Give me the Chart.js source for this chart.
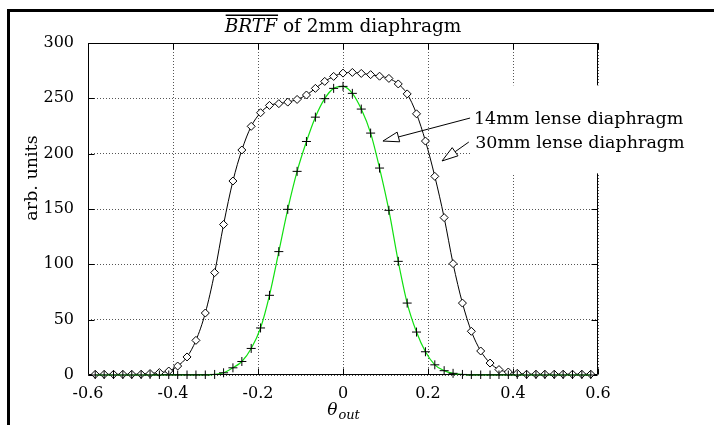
<!DOCTYPE html>
<html>
<head>
<meta charset="utf-8">
<script src="https://cdn.jsdelivr.net/npm/chart.js@4/dist/chart.umd.min.js"></script>
<style>
  html, body { margin: 0; padding: 0; background: #fff; }
  canvas { display: block; }
</style>
</head>
<body>
<canvas id="c" width="714" height="425"></canvas>
<script>
// ---------- data ----------
const thetaOut = [
  -0.583, -0.562, -0.540, -0.518, -0.497, -0.475, -0.454, -0.432, -0.410, -0.389,
  -0.367, -0.346, -0.324, -0.302, -0.281, -0.259, -0.238, -0.216, -0.194, -0.173,
  -0.151, -0.130, -0.108, -0.086, -0.065, -0.043, -0.022, 0.000, 0.022, 0.043,
  0.065, 0.086, 0.108, 0.130, 0.151, 0.173, 0.194, 0.216, 0.238, 0.259,
  0.281, 0.302, 0.324, 0.346, 0.367, 0.389, 0.410, 0.432, 0.454, 0.475,
  0.497, 0.518, 0.540, 0.562, 0.583
];
const lens30mm = [
  0.6, 0.6, 0.6, 0.6, 0.6, 0.7, 1.3, 2.2, 3.6, 8.1,
  16.3, 31.3, 56, 92.5, 136, 175.3, 203.3, 224.7, 237, 243.6,
  245.2, 246.6, 249, 253, 259, 265.3, 269.8, 272.8, 273.4, 272.5,
  271.4, 270, 268, 263, 254, 236, 211.4, 179.5, 142.2, 100.6,
  65, 39.5, 21.7, 10.8, 4.9, 2.7, 1.5, 0.7, 0.7, 0.7,
  0.7, 0.7, 0.7, 0.7, 0.7
];
const lens14mm = [
  0, 0, 0, 0, 0, 0, 0, 0, 0, 0,
  0, 0, 0, 0.5, 2, 6.5, 12.2, 24, 42.5, 72,
  111.5, 149.7, 184, 211, 233, 249.7, 259, 260.8, 254.5, 240.3,
  218.6, 187, 148.8, 102.7, 65, 38.8, 21, 9.2, 3.9, 1.5,
  0.5, 0, 0, 0, 0, 0, 0, 0, 0, 0,
  0, 0, 0, 0, 0
];
const xTickValues = [-0.6, -0.4, -0.2, 0, 0.2, 0.4, 0.6];
const yTickValues = [0, 50, 100, 150, 200, 250, 300];
const titleItalic = 'BRTF';
const titleRest = ' of 2mm diaphragm';
const yAxisTitle = 'arb. units';
const yAxisTitleAt = 178;   // data value at which the y title is centred
const xAxisSymbol = 'θ';
const xAxisSub = 'out';
const label14 = '14mm lense diaphragm';
const label30 = '30mm lense diaphragm';
// annotation anchors in data units: [textX, textY(baseline), arrowStartX, arrowStartY, tipX, tipY]
const note14 = [0.308, 226.5, 0.299, 232.2, 0.094, 211.4];
const note30 = [0.311, 204.8, 0.296, 210.5, 0.233, 193.4];

const SERIF = '"DejaVu Serif", serif';

function pts(xs, ys) { return xs.map((x, i) => ({ x: x, y: ys[i] })); }

const deco = {
  id: 'deco',
  beforeDraw(chart) {
    const ctx = chart.ctx;
    ctx.save();
    ctx.fillStyle = '#fff';
    ctx.fillRect(0, 0, chart.width, chart.height);
    ctx.restore();
  },
  beforeDatasetsDraw(chart) {
    const { ctx, chartArea: a, scales } = chart;
    const xs = scales.x, ys = scales.y;
    ctx.save();
    // plot frame
    ctx.strokeStyle = '#000';
    ctx.lineWidth = 1;
    const L = Math.round(a.left) + 0.5, R = Math.round(a.right) - 0.5;
    const T = Math.round(a.top) + 0.5, B = Math.round(a.bottom) - 0.5;
    ctx.beginPath();
    ctx.moveTo(L, T); ctx.lineTo(R, T); ctx.lineTo(R, B); ctx.lineTo(L, B); ctx.closePath();
    ctx.stroke();
    // inward ticks
    ctx.beginPath();
    yTickValues.forEach(v => {
      const p = Math.round(ys.getPixelForValue(v)) + 0.5;
      ctx.moveTo(L, p); ctx.lineTo(L + 6, p);
      ctx.moveTo(R, p); ctx.lineTo(R - 6, p);
    });
    xTickValues.forEach(v => {
      const p = Math.round(xs.getPixelForValue(v)) + 0.5;
      ctx.moveTo(p, B); ctx.lineTo(p, B - 6);
      ctx.moveTo(p, T); ctx.lineTo(p, T + 6);
    });
    ctx.stroke();
    ctx.restore();
  },
  afterDraw(chart) {
    const { ctx, chartArea: a, scales } = chart;
    const xs = scales.x, ys = scales.y;
    ctx.save();

    // annotation box (white) covering part of right frame
    ctx.font = '17.5px ' + SERIF;
    const t1x = xs.getPixelForValue(note14[0]), t1y = ys.getPixelForValue(note14[1]);
    const t2x = xs.getPixelForValue(note30[0]), t2y = ys.getPixelForValue(note30[1]);
    const w1 = ctx.measureText(label14).width, w2 = ctx.measureText(label30).width;
    ctx.fillStyle = '#fff';
    ctx.fillRect(t1x - 2, t1y - 39, Math.max(w1, w2) + 10, (t2y - t1y) + 64);
    ctx.fillStyle = '#000';
    ctx.textBaseline = 'alphabetic';
    ctx.textAlign = 'left';
    ctx.fillText(label14, t1x, t1y);
    ctx.fillText(label30, t2x, t2y);

    // arrows with open triangular heads
    function arrow(n) {
      const sx = xs.getPixelForValue(n[2]), sy = ys.getPixelForValue(n[3]);
      const tx = xs.getPixelForValue(n[4]), ty = ys.getPixelForValue(n[5]);
      const dx = tx - sx, dy = ty - sy, len = Math.hypot(dx, dy);
      const ux = dx / len, uy = dy / len;
      const hl = 16, hw = 5;
      const bx = tx - ux * hl, by = ty - uy * hl;
      ctx.beginPath();
      ctx.moveTo(sx, sy); ctx.lineTo(bx, by);
      ctx.stroke();
      ctx.beginPath();
      ctx.moveTo(tx, ty);
      ctx.lineTo(bx - uy * hw, by + ux * hw);
      ctx.lineTo(bx + uy * hw, by - ux * hw);
      ctx.closePath();
      ctx.fillStyle = '#fff';
      ctx.fill();
      ctx.stroke();
    }
    ctx.lineWidth = 1;
    ctx.strokeStyle = '#000';
    arrow(note14);
    arrow(note30);

    // title with overline on BRTF
    const cx = (a.left + a.right) / 2;
    ctx.fillStyle = '#000';
    ctx.font = 'italic 18.5px ' + SERIF;
    const wi = ctx.measureText(titleItalic).width;
    ctx.font = '18.5px ' + SERIF;
    const wr = ctx.measureText(titleRest).width;
    const sx0 = cx - (wi + wr) / 2;
    const tb = 32;
    ctx.font = 'italic 18.5px ' + SERIF;
    ctx.fillText(titleItalic, sx0, tb);
    ctx.font = '18.5px ' + SERIF;
    ctx.fillText(titleRest, sx0 + wi, tb);
    ctx.fillRect(sx0 + 1, tb - 17.5, wi, 1.5);

    // y axis title
    ctx.save();
    ctx.translate(32, ys.getPixelForValue(yAxisTitleAt));
    ctx.rotate(-Math.PI / 2);
    ctx.font = '17.5px ' + SERIF;
    ctx.textAlign = 'center';
    ctx.textBaseline = 'middle';
    ctx.fillText(yAxisTitle, 0, 0);
    ctx.restore();

    // x axis label theta_out
    ctx.font = 'italic 17px ' + SERIF;
    const wt = ctx.measureText(xAxisSymbol).width;
    ctx.font = 'italic 13px ' + SERIF;
    const ws = ctx.measureText(xAxisSub).width;
    const lx = cx - (wt + ws) / 2;
    ctx.font = 'italic 17px ' + SERIF;
    ctx.fillText(xAxisSymbol, lx, 415);
    ctx.font = 'italic 13px ' + SERIF;
    ctx.fillText(xAxisSub, lx + wt + 1, 419);

    // outer figure border (left and top)
    ctx.fillStyle = '#000';
    ctx.fillRect(7, 9, 707, 3);
    ctx.fillRect(7, 9, 3, 416);
    ctx.restore();
  }
};

new Chart(document.getElementById('c'), {
  type: 'line',
  data: {
    datasets: [
      {
        label: label14,
        data: pts(thetaOut, lens14mm),
        borderColor: '#10e010',
        borderWidth: 1.2,
        cubicInterpolationMode: 'monotone',
        pointStyle: 'cross',
        pointRadius: 4.5,
        pointBorderColor: '#000',
        pointBorderWidth: 1,
        clip: 4,
        fill: false
      },
      {
        label: label30,
        data: pts(thetaOut, lens30mm),
        borderColor: '#000',
        borderWidth: 1,
        cubicInterpolationMode: 'monotone',
        pointStyle: 'rectRot',
        pointRadius: 4,
        pointBackgroundColor: '#fff',
        pointBorderColor: '#000',
        pointBorderWidth: 1,
        clip: 4,
        fill: false
      }
    ]
  },
  options: {
    responsive: false,
    animation: false,
    devicePixelRatio: 1,
    layout: { padding: { left: 0, right: 116, top: 43, bottom: 0 } },
    plugins: { legend: { display: false }, tooltip: { enabled: false }, title: { display: false } },
    scales: {
      x: {
        type: 'linear',
        min: -0.6, max: 0.6,
        afterBuildTicks: s => { s.ticks = xTickValues.map(v => ({ value: v })); },
        afterFit: s => { s.height = 50; },
        ticks: {
          color: '#000',
          font: { family: SERIF, size: 16 },
          padding: 9,
          maxRotation: 0,
          callback: v => (v === 0 ? '0' : v.toFixed(1))
        },
        grid: { color: '#555', lineWidth: 1, drawTicks: false },
        border: { display: false, dash: [1, 2] }
      },
      y: {
        type: 'linear',
        min: 0, max: 300,
        afterBuildTicks: s => { s.ticks = yTickValues.map(v => ({ value: v })); },
        afterFit: s => { s.width = 88; },
        ticks: {
          color: '#000',
          font: { family: SERIF, size: 16 },
          padding: 14,
          callback: v => String(v)
        },
        grid: { color: '#555', lineWidth: 1, drawTicks: false },
        border: { display: false, dash: [1, 2] }
      }
    }
  },
  plugins: [deco]
});
</script>
</body>
</html>
